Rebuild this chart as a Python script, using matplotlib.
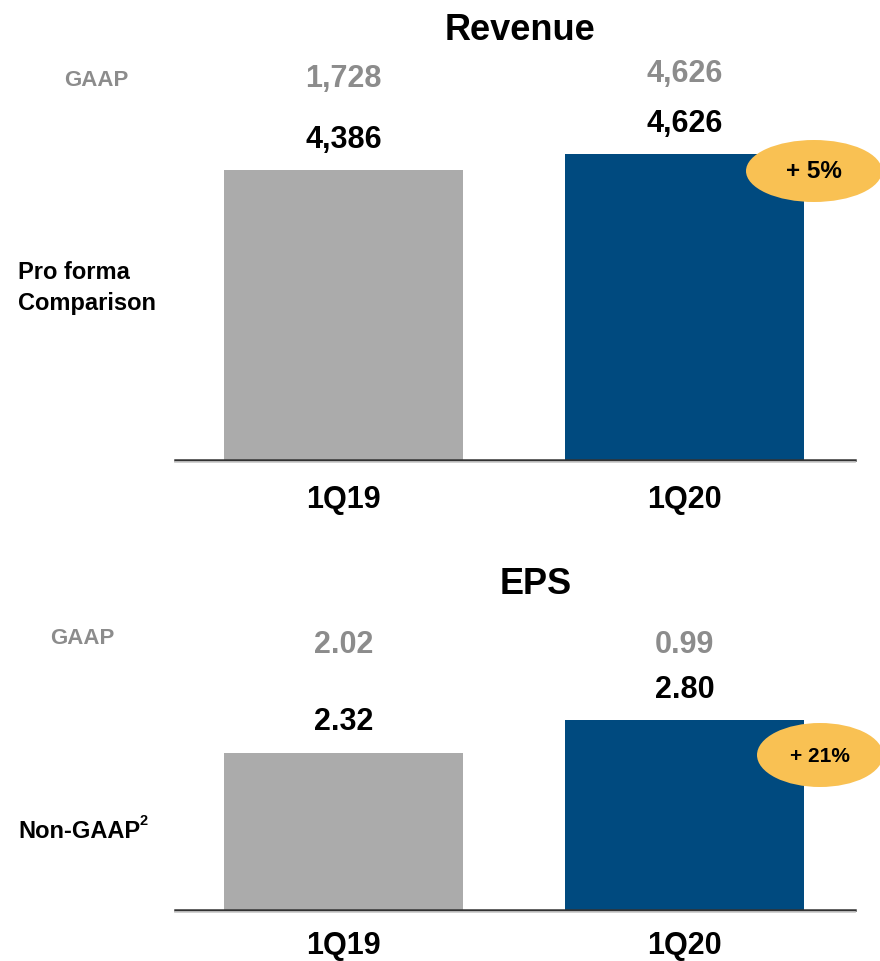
import numpy as np
import matplotlib
matplotlib.use("Agg")
import matplotlib.pyplot as plt
from matplotlib.patches import Ellipse
from matplotlib.lines import Line2D

plt.rcParams['font.family'] = ['Liberation Sans', 'DejaVu Sans']

# Data
quarters = ['1Q19', '1Q20']
rev_proforma = [4386, 4626]
rev_gaap = [1728, 4626]
rev_growth = '+ 5%'
eps_nongaap = [2.32, 2.80]
eps_gaap = [2.02, 0.99]
eps_growth = '+ 21%'

bar_colors = ['#ABABAB', '#004A7F']
gaap_color = '#8C8C8C'
badge_color = '#F9C153'

W, H = 880, 962
fig = plt.figure(figsize=(W / 100, H / 100), dpi=100)


def px(x, y):
    # pixel position (from top-left) -> figure fraction
    return x / W, 1 - y / H


def panel(bottom_px, top_px, ymax, values, gaap, fmt, title, title_y,
          gaap_rows, side_label, side_y, growth, badge, pad):
    left, b = px(175, bottom_px)
    ax = fig.add_axes([left, b, 680 / W, (bottom_px - top_px) / H])
    x = np.arange(len(quarters))
    ax.bar(x, values, width=0.7, color=bar_colors, zorder=2)
    ax.set_xlim(-0.495, 1.5)
    ax.set_ylim(0, ymax)
    for s in ['top', 'left', 'right']:
        ax.spines[s].set_visible(False)
    ax.spines['bottom'].set_color('#333333')
    ax.spines['bottom'].set_linewidth(1.8)
    ax.set_yticks([])
    ax.set_xticks(x)
    ax.set_xticklabels(quarters, fontsize=22, fontweight='bold')
    ax.tick_params(axis='x', length=0, pad=pad)

    # soft shadow under the baseline
    fig.add_artist(Line2D([175 / W, 855 / W], [1 - (bottom_px + 2.2) / H] * 2,
                          color='#c8c8c8', lw=1.2))

    # value labels above bars
    for xi, v in zip(x, values):
        ax.annotate(fmt(v), (xi, v), xytext=(0, 22.5), textcoords='offset points',
                    ha='center', va='center', fontsize=22, fontweight='bold',
                    color='black')
    # GAAP row
    trans = ax.get_xaxis_transform()
    for xi, v, gr in zip(x, gaap, gaap_rows):
        gy = 1 - (gr - top_px) / (bottom_px - top_px)
        ax.text(xi, gy, fmt(v), transform=trans, ha='center', va='center',
                fontsize=22, fontweight='bold', color=gaap_color, clip_on=False)

    fig.text(*px(title[1], title_y), title[0], ha='center', va='center',
             fontsize=26, fontweight='bold')
    fig.text(*px(side_label[1], side_label[2]), 'GAAP', ha='center', va='center',
             fontsize=16, fontweight='bold', color=gaap_color)
    fig.text(*px(18, side_y), side_label[0], ha='left', va='center',
             fontsize=17, fontweight='bold', linespacing=1.45)

    cx, cy = px(badge[0], badge[1])
    ell = Ellipse((cx, cy), badge[2] / W, badge[3] / H, transform=fig.transFigure,
                  facecolor=badge_color, edgecolor='none', zorder=3, clip_on=False)
    ax.add_patch(ell)
    fig.text(cx, cy, growth, ha='center', va='center', fontsize=badge[4],
             fontweight='bold', zorder=4)
    return ax


panel(461, 100, 361 / 0.06613, rev_proforma, rev_gaap, lambda v: f'{v:,.0f}',
      ('Revenue', 520), 31, (79, 74), ('Pro forma\nComparison', 96, 81), 288,
      rev_growth, (814, 172, 136, 62, 17.5), 17)

panel(911, 600, 311 / 67.8, eps_nongaap, eps_gaap, lambda v: f'{v:.2f}',
      ('EPS', 536), 585, (645, 645), ('Non-GAAP', 82, 639), 832,
      eps_growth, (820, 756, 126, 64, 15), 14.5)

fig.text(*px(139, 821), '2', ha='left', va='center', fontsize=10.5,
         fontweight='bold')

fig.savefig('out.png', dpi=100)
